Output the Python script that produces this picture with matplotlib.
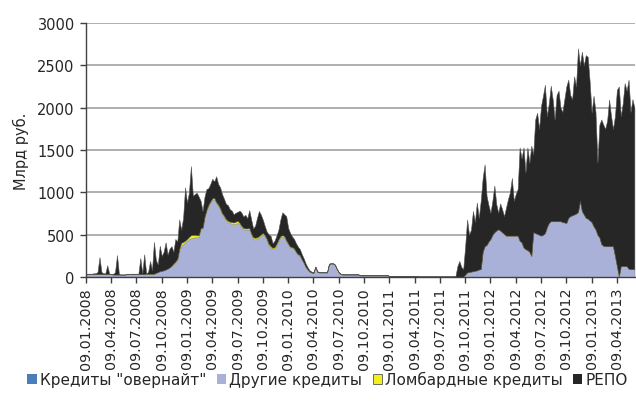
import matplotlib
matplotlib.use("Agg")
import matplotlib.pyplot as plt
from matplotlib.patches import Patch
import numpy as np

# weekly points, 13 weeks per quarter, starting 09.01.2008
tick_labels = ["09.01.2008", "09.04.2008", "09.07.2008", "09.10.2008",
               "09.01.2009", "09.04.2009", "09.07.2009", "09.10.2009",
               "09.01.2010", "09.04.2010", "09.07.2010", "09.10.2010",
               "09.01.2011", "09.04.2011", "09.07.2011", "09.10.2011",
               "09.01.2012", "09.04.2012", "09.07.2012", "09.10.2012",
               "09.01.2013", "09.04.2013"]

overnight = [5] * 39 + [0] * 244

other = ([30] * 14 + [25] * 7 + [30] * 10 + [35] * 5 + [45, 55, 65, 75] +
         [80, 90, 100, 115, 130, 150, 175, 200, 300, 370,
          390, 410, 430, 450, 460, 465, 470, 470, 475, 560,
          570, 700, 780, 840, 880, 915, 920, 870, 840, 800,
          740, 710, 670, 650, 640, 630, 625, 630, 640, 620,
          590, 565, 560, 560, 565, 500, 450, 445, 455, 470,
          490, 505, 480, 430, 370, 345, 330, 340, 380, 430,
          470, 480, 470, 420, 380, 350, 345, 330, 290, 260,
          250, 200, 165] +
         [120, 90, 65, 55, 50, 120, 60, 55, 55, 55, 55, 55, 155, 160, 160,
          145, 95, 55, 35] +
         [30] * 9 + [20] * 15 + [12] * 15 + [6] * 19 +
         [3, 0, 0, 0, 5, 30, 55, 60, 65, 70,
          75, 80, 90, 95, 300, 365, 380, 420, 450, 500,
          530, 550, 565, 550, 530, 510, 490, 490, 490, 490,
          490, 490, 490, 430, 410, 350, 330, 320, 300, 250,
          530, 520, 510, 500, 490, 500, 520, 590, 640, 660,
          660, 660, 660, 660, 660, 650, 645, 640, 700, 720,
          730, 740, 750, 770, 900, 780, 740, 700, 690, 670,
          650, 600, 565, 500, 470, 390, 370, 365, 365, 365,
          365, 365, 250, 130, 10, 130, 130, 130, 130, 100,
          95, 95, 95])

lombard = ([0] * 44 +
           [5, 10, 10, 15, 30, 35, 25, 20, 20, 25,
            35, 35, 30, 25, 20, 15, 15, 15, 15, 15,
            15, 15, 15, 15, 15, 15, 15, 15, 15, 15,
            15, 20, 20, 25, 25, 20, 15, 15, 15, 15,
            15, 15, 20, 20, 15, 15, 15, 15, 15, 20,
            20, 20, 15, 15, 15, 15, 15, 15, 15, 15,
            15, 10, 10, 10, 10, 10, 10, 10, 5] +
           [0] * 170)

repo = ([5, 5, 5, 5, 10, 10, 25, 200, 25, 10,
         10, 105, 5, 5, 5, 30, 230, 5, 0, 0,
         0, 0, 0, 5, 5, 5, 5, 5, 190, 10,
         235, 5, 20, 150, 40, 375, 150, 90, 300, 175] +
        [220, 320, 165, 220, 230, 140, 265, 205, 350, 155,
         285, 630, 430, 525, 815, 460, 480, 500, 455, 325,
         195, 235, 245, 195, 205, 230, 195, 305, 245, 245,
         225, 200, 180, 185, 145, 135, 95, 105, 105, 145,
         155, 135, 160, 120, 210, 165, 105, 140, 230, 295,
         230, 155, 105, 85, 115, 120, 55, 75, 95, 115,
         195, 270, 255, 285, 185, 160, 125, 110, 100, 90,
         70, 60, 50] +
        [40, 25, 15, 10, 10, 5, 10, 5, 5, 5, 5, 5, 5, 5, 5, 5, 5, 5, 5] +
        [5] * 9 + [5] * 15 + [3] * 15 + [3] * 19 +
        [7, 130, 190, 120, 90, 335, 625, 440, 495, 710,
         575, 800, 610, 805, 870, 965, 580, 430, 310, 400,
         550, 310, 195, 320, 270, 210, 330, 430, 510, 680,
         410, 490, 550, 1100, 990, 1180, 905, 1210, 1050, 1300,
         920, 1340, 1430, 1250, 1530, 1640, 1750, 1310, 1410, 1600,
         1435, 1200, 1490, 1540, 1340, 1300, 1455, 1610, 1630, 1430,
         1370, 1630, 1500, 1930, 1600, 1880, 1760, 1920, 1910, 1640,
         1290, 1540, 1385, 850, 1330, 1470, 1430, 1385, 1485, 1730,
         1535, 1385, 1650, 2080, 2240, 1770, 1920, 2160, 2070, 2230,
         1855, 2005, 1905])

weeks = np.arange(len(repo))

c_on = "#4a7ebb"
c_other = "#aab1d8"
c_lom = "#f2ee22"
c_repo = "#262626"
txt = "#262626"

fig = plt.figure(figsize=(6.36, 4.06), dpi=100)
ax = fig.add_axes([0.135, 0.315, 0.864, 0.626])

polys = ax.stackplot(weeks, overnight, other, lombard, repo,
                     colors=[c_on, c_other, c_lom, c_repo], zorder=2)
polys[1].set_edgecolor("#8d8fa0")
polys[1].set_linewidth(0.5)
polys[2].set_edgecolor("#a0a040")
polys[2].set_linewidth(0.3)
polys[3].set_edgecolor("#555555")
polys[3].set_linewidth(0.4)

ax.set_ylim(0, 3000)
ax.set_xlim(0, weeks[-1] + 0.5)
ax.set_yticks(range(0, 3001, 500))
ax.set_xticks(np.arange(len(tick_labels)) * 13)
ax.set_xticklabels(tick_labels, rotation=90)

ax.yaxis.grid(True, color="#a9a9a9", lw=1.3)
ax.set_axisbelow(True)
for s in ["top", "right"]:
    ax.spines[s].set_visible(False)
for s in ["left", "bottom"]:
    ax.spines[s].set_color("#404040")
    ax.spines[s].set_linewidth(1.0)
ax.tick_params(axis="both", colors="#404040", labelcolor=txt,
               length=4, width=1.0)
ax.tick_params(axis="y", labelsize=10.5, pad=4)
ax.tick_params(axis="x", labelsize=10.3, pad=3)

ax.set_ylabel("Млрд руб.", fontsize=10.5, color=txt, labelpad=6)

handles = [Patch(facecolor=c_on, edgecolor="none"),
           Patch(facecolor=c_other, edgecolor="none"),
           Patch(facecolor=c_lom, edgecolor="#555555", linewidth=0.6),
           Patch(facecolor=c_repo, edgecolor="none")]
labels = ['Кредиты "овернайт"', "Другие кредиты", "Ломбардные кредиты", "РЕПО"]
fig.legend(handles, labels, loc="center", bbox_to_anchor=(0.515, 0.064),
           ncol=4, frameon=False, fontsize=11, handlelength=0.6,
           handleheight=0.6, handletextpad=0.2, columnspacing=0.7,
           labelcolor=txt, borderpad=0.1)

fig.savefig("out.png", dpi=100)
